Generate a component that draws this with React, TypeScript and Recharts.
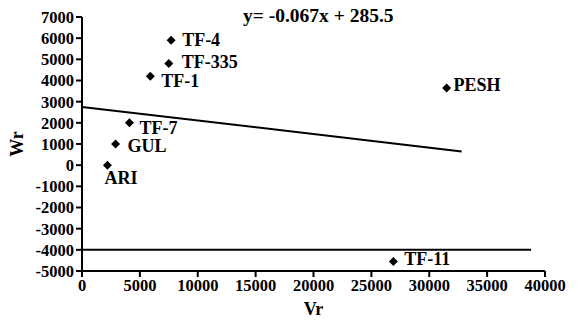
import React from 'react';
import {
  ComposedChart,
  Scatter,
  XAxis,
  YAxis,
  ReferenceLine,
  LabelList,
} from 'recharts';

// cultivar names and their Vr / Wr values
const cultivars = ['TF-4', 'TF-335', 'TF-1', 'TF-7', 'GUL', 'ARI', 'PESH', 'TF-11'];
const vrValues = [7700, 7500, 5900, 4100, 2900, 2200, 31500, 26900];
const wrValues = [5900, 4800, 4200, 2000, 1000, 0, 3650, -4550];

const xTicks = [0, 5000, 10000, 15000, 20000, 25000, 30000, 35000, 40000];
const yTicks = [-5000, -4000, -3000, -2000, -1000, 0, 1000, 2000, 3000, 4000, 5000, 6000, 7000];

// regression line ends and limit line ends
const regressionLine = [
  { x: 0, y: 2750 },
  { x: 32800, y: 650 },
];
const limitLine = [
  { x: 0, y: -4000 },
  { x: 38800, y: -4000 },
];

const equationText = 'y= -0.067x + 285.5';

const points = cultivars.map((name, i) => ({ name, x: vrValues[i], y: wrValues[i] }));

const FONT = 'Liberation Serif';
const textStyle = { fontFamily: FONT, fontWeight: 'bold' as const, fontSize: 18, fill: '#000' };

// where each label sits relative to its marker
const labelOffset: Record<string, { dx: number; dy: number }> = {
  'TF-4': { dx: 11, dy: 0 },
  'TF-335': { dx: 13, dy: -2 },
  'TF-1': { dx: 11, dy: 5 },
  'TF-7': { dx: 10, dy: 5 },
  GUL: { dx: 12, dy: 2 },
  ARI: { dx: -3, dy: 13 },
  PESH: { dx: 7, dy: -3 },
  'TF-11': { dx: 11, dy: -2 },
};

const Diamond = (props: any) => {
  const { cx, cy } = props;
  const r = 4.5;
  return (
    <path
      d={`M${cx},${cy - r}L${cx + r},${cy}L${cx},${cy + r}L${cx - r},${cy}Z`}
      fill="#000"
    />
  );
};

const PointLabel = (props: any) => {
  const { x, y, width, height, value } = props;
  const cx = x + (width || 0) / 2;
  const cy = y + (height || 0) / 2;
  const off = labelOffset[value] || { dx: 10, dy: 0 };
  return (
    <text x={cx + off.dx} y={cy + off.dy} dominantBaseline="central" style={textStyle}>
      {value}
    </text>
  );
};

const tickStyle = { style: { fontFamily: FONT, fontWeight: 'bold', fontSize: 16.5, fill: '#000' } };

export default function App() {
  return (
    <div style={{ position: 'absolute', left: 0, top: 0, background: '#fff' }}>
      <ComposedChart
        width={579}
        height={322}
        margin={{ top: 17, right: 34, left: 12, bottom: 21 }}
      >
        <XAxis
          type="number"
          dataKey="x"
          domain={[0, 40000]}
          ticks={xTicks}
          interval={0}
          stroke="#000"
          strokeWidth={2}
          tickSize={6}
          tick={{ ...tickStyle, fill: '#000' }}
          height={30}
          label={{
            value: 'Vr',
            position: 'insideBottom',
            offset: -14,
            style: textStyle,
          }}
        />
        <YAxis
          type="number"
          dataKey="y"
          domain={[-5000, 7000]}
          ticks={yTicks}
          interval={0}
          stroke="#000"
          strokeWidth={2}
          tickSize={6}
          tick={{ ...tickStyle, fill: '#000' }}
          width={70}
          label={{
            value: 'Wr',
            angle: -90,
            position: 'insideLeft',
            offset: 5,
            style: { ...textStyle, textAnchor: 'middle' },
          }}
        />
        <ReferenceLine segment={regressionLine} stroke="#000" strokeWidth={2} ifOverflow="visible" />
        <ReferenceLine segment={limitLine} stroke="#000" strokeWidth={2} ifOverflow="visible" />
        <Scatter data={points} fill="#000" shape={Diamond} isAnimationActive={false}>
          <LabelList dataKey="name" content={PointLabel} />
        </Scatter>
        <text x={243} y={22} style={{ ...textStyle, fontSize: 19.5 }}>
          {equationText}
        </text>
      </ComposedChart>
    </div>
  );
}
